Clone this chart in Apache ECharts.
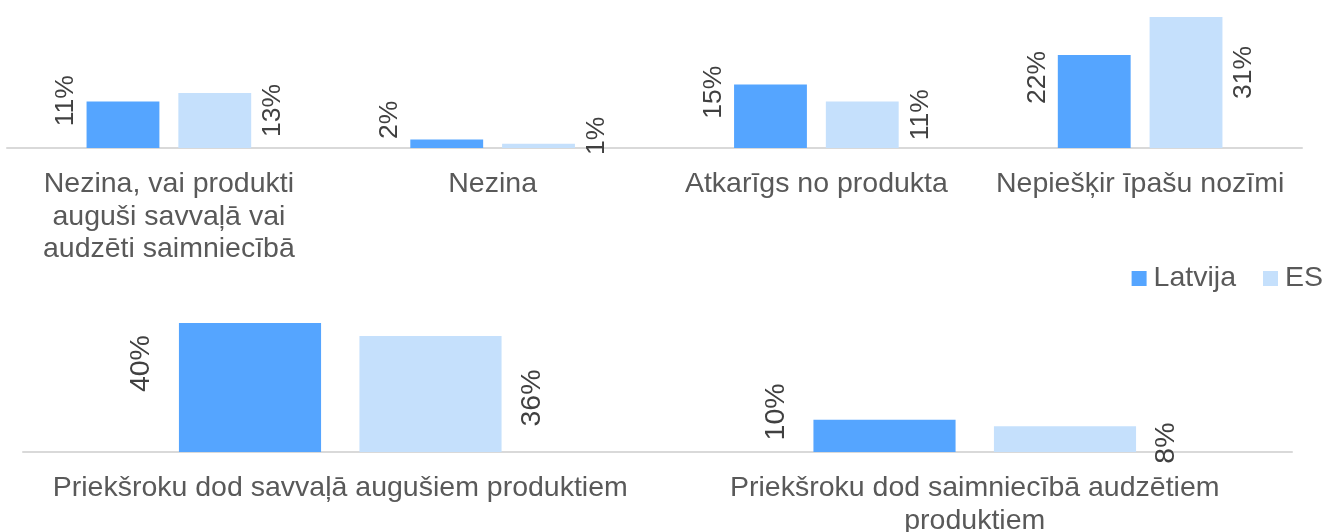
<!DOCTYPE html>
<html>
<head>
<meta charset="utf-8">
<script src="https://cdn.jsdelivr.net/npm/echarts@6/dist/echarts.min.js"></script>
<style>html,body{margin:0;padding:0;background:#fff}#c{width:1328px;height:532px}</style>
</head>
<body>
<div id="c"></div>
<script>
const topCategories = ['Nezina, vai produkti auguši savvaļā vai audzēti saimniecībā', 'Nezina', 'Atkarīgs no produkta', 'Nepiešķir īpašu nozīmi'];
const topLatvija = [11, 2, 15, 22];
const topES = [13, 1, 11, 31];
const bottomCategories = ['Priekšroku dod savvaļā augušiem produktiem', 'Priekšroku dod saimniecībā audzētiem produktiem'];
const bottomLatvija = [40, 10];
const bottomES = [36, 8];
const seriesNames = ['Latvija', 'ES'];

const FONT = '"Liberation Sans", Arial, sans-serif';
const C_LV = '#55A5FF';
const C_ES = '#C5E0FC';
const AX_SIZE = 28.5;

// word wrap using canvas text measurement
const mctx = document.createElement('canvas').getContext('2d');
mctx.font = AX_SIZE + 'px ' + FONT;
function wrap(text, maxW) {
  const words = text.split(' ');
  const lines = [];
  let cur = '';
  for (const w of words) {
    const t = cur ? cur + ' ' + w : w;
    if (cur && mctx.measureText(t).width > maxW) { lines.push(cur); cur = w; }
    else cur = t;
  }
  if (cur) lines.push(cur);
  return lines.join('\n');
}

// offset is in the rotated frame: [up, right]
function lbl(side, size, dist, off) {
  return {
    show: true,
    position: side,
    rotate: 90,
    distance: dist,
    align: 'center',
    verticalAlign: side === 'left' ? 'bottom' : 'top',
    offset: off,
    fontFamily: FONT,
    fontSize: size,
    color: '#404040',
    formatter: p => p.value + '%'
  };
}

function xAx(idx, cats, width) {
  return {
    type: 'category', gridIndex: idx, data: cats,
    axisLine: {show: true, lineStyle: {color: '#d9d9d9', width: 2}},
    axisTick: {show: false},
    axisLabel: {
      interval: 0, margin: 20, fontFamily: FONT, fontSize: AX_SIZE, color: '#595959',
      lineHeight: 32.5, formatter: v => wrap(v, width), hideOverlap: false
    }
  };
}

const chart = echarts.init(document.getElementById('c'), null, {renderer: 'canvas'});
chart.setOption({
  animation: false,
  legend: {
    data: seriesNames,
    right: 0, top: 259,
    itemWidth: 15, itemHeight: 15, itemGap: 27,
    icon: 'rect',
    textStyle: {fontFamily: FONT, fontSize: 28.5, color: '#595959', padding: [0, 0, 0, 2]}
  },
  grid: [
    {left: 7, width: 1295, top: 0, height: 148, containLabel: false, outerBoundsMode: 'none'},
    {left: 23, width: 1269, top: 307, height: 145, containLabel: false, outerBoundsMode: 'none'}
  ],
  xAxis: [xAx(0, topCategories, 310), xAx(1, bottomCategories, 610)],
  yAxis: [
    {type: 'value', gridIndex: 0, min: 0, max: 35, show: false, splitLine: {show: false}},
    {type: 'value', gridIndex: 1, min: 0, max: 45, show: false, splitLine: {show: false}}
  ],
  series: [
    {name: seriesNames[0], type: 'bar', xAxisIndex: 0, yAxisIndex: 0, data: topLatvija,
     barWidth: '22.5%', barGap: '26%', itemStyle: {color: C_LV}, label: lbl('left', 26.5, 7, [24, 0])},
    {name: seriesNames[1], type: 'bar', xAxisIndex: 0, yAxisIndex: 0, data: topES,
     barWidth: '22.5%', barGap: '26%', itemStyle: {color: C_ES}, label: lbl('right', 26.5, 8, [10, 0])},
    {name: seriesNames[0], type: 'bar', xAxisIndex: 1, yAxisIndex: 1, data: bottomLatvija,
     barWidth: '22.4%', barGap: '27%', itemStyle: {color: C_LV}, label: lbl('left', 28.5, 23, [24, 0])},
    {name: seriesNames[1], type: 'bar', xAxisIndex: 1, yAxisIndex: 1, data: bottomES,
     barWidth: '22.4%', barGap: '27%', itemStyle: {color: C_ES}, label: lbl('right', 28.5, 16, [-4, 0])}
  ]
});
</script>
</body>
</html>
